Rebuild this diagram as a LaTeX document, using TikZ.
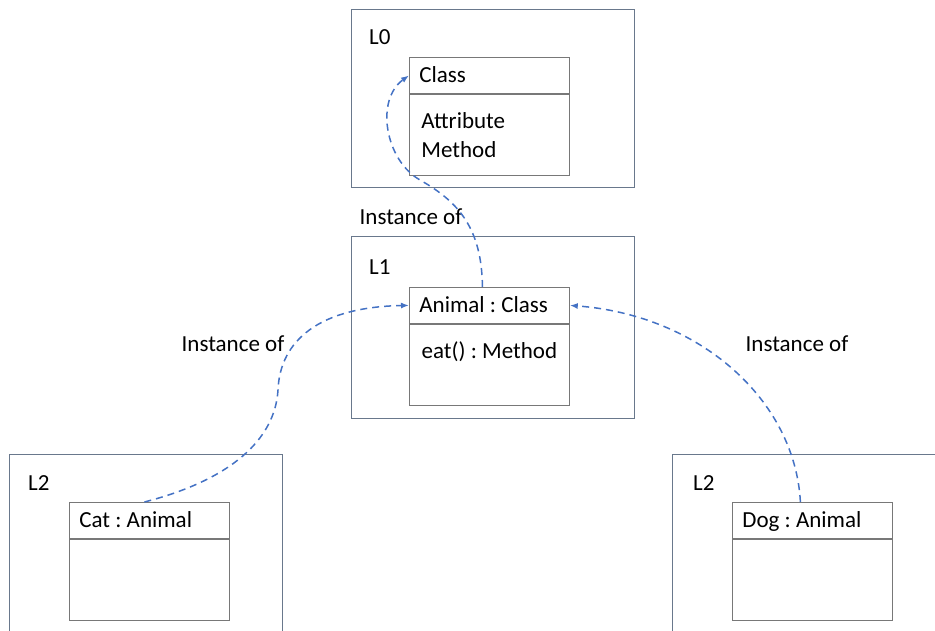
\documentclass[tikz,border=0pt]{standalone}
\usepackage{fontspec}
\setmainfont{Carlito}
\usetikzlibrary{arrows.meta, positioning}

\definecolor{framegray}{RGB}{105,120,140}
\definecolor{boxgray}{RGB}{120,120,120}
\definecolor{linkblue}{RGB}{68,114,196}

\frenchspacing

\begin{document}
\begin{tikzpicture}[
    x=1pt, y=-1pt,
    every node/.style={font=\fontsize{23}{29}\selectfont},
    level/.style={rectangle, draw=framegray, line width=0.9pt, anchor=north west, inner sep=0pt},
    umltitle/.style={rectangle, draw=boxgray, line width=0.8pt, minimum height=36pt, text width=140pt, inner xsep=10pt, inner ysep=0pt, text height=17pt, text depth=3pt, align=flush left},
    umlbody/.style={rectangle, draw=boxgray, line width=0.8pt, minimum width=160pt, minimum height=81pt, inner xsep=12pt, inner ysep=0pt, align=left},
    levelname/.style={anchor=west, inner sep=0pt},
    instof/.style={-{Latex[length=8pt,width=6pt]}, linkblue, line width=1.5pt, dash pattern=on 7pt off 5pt}
]

\clip (0,0) rectangle (935,631);

% Levels
\node[level, minimum width=283pt, minimum height=178pt] (f0) at (351,9) {};
\node[level, minimum width=283pt, minimum height=182pt] (f1) at (351,236) {};
\node[level, minimum width=273pt, minimum height=220pt] (f2a) at (9,454) {};
\node[level, minimum width=300pt, minimum height=220pt] (f2b) at (672,454) {};

\node[levelname] (l0) at ([shift={(18,28)}]f0.north west) {L0};
\node[levelname] (l1) at ([shift={(18,31)}]f1.north west) {L1};
\node[levelname] (l2a) at ([shift={(19,29)}]f2a.north west) {L2};
\node[levelname] (l2b) at ([shift={(21,29)}]f2b.north west) {L2};

% L0
\node[umltitle, below right=48pt and 58pt of f0.north west] (clsT) {Class};
\node[umlbody, text width=136pt, below=0pt of clsT] (clsB) {Attribute\\Method};

% L1
\node[umltitle, below right=51pt and 58pt of f1.north west] (animT) {Animal : Class};
\node[umlbody, below=0pt of animT] (animB) {eat() : Method\\\mbox{}};

% L2
\node[umltitle, below right=48pt and 60pt of f2a.north west] (catT) {Cat : Animal};
\node[umlbody, below=0pt of catT] (catB) {};

\node[umltitle, below right=48pt and 60pt of f2b.north west] (dogT) {Dog : Animal};
\node[umlbody, below=0pt of dogT] (dogB) {};

% Labels
\node (instA) at (411,217) {Instance of};
\node (instB) at (233,344) {Instance of};
\node (instC) at (797,344) {Instance of};

% Arrows
\draw[instof] ([xshift=-7pt]animT.north) .. controls (482,225) and (455,200) .. (420,180)
    .. controls (385,160) and (375,100) .. (clsT.west);
\draw[instof] ([xshift=-5pt]catT.north) .. controls (230,480) and (275,440) .. (278,390)
    .. controls (280,340) and (320,307) .. (animT.west);
\draw[instof] ([xshift=-12pt]dogT.north) .. controls (795,400) and (700,315) .. (animT.east);

\end{tikzpicture}
\end{document}
